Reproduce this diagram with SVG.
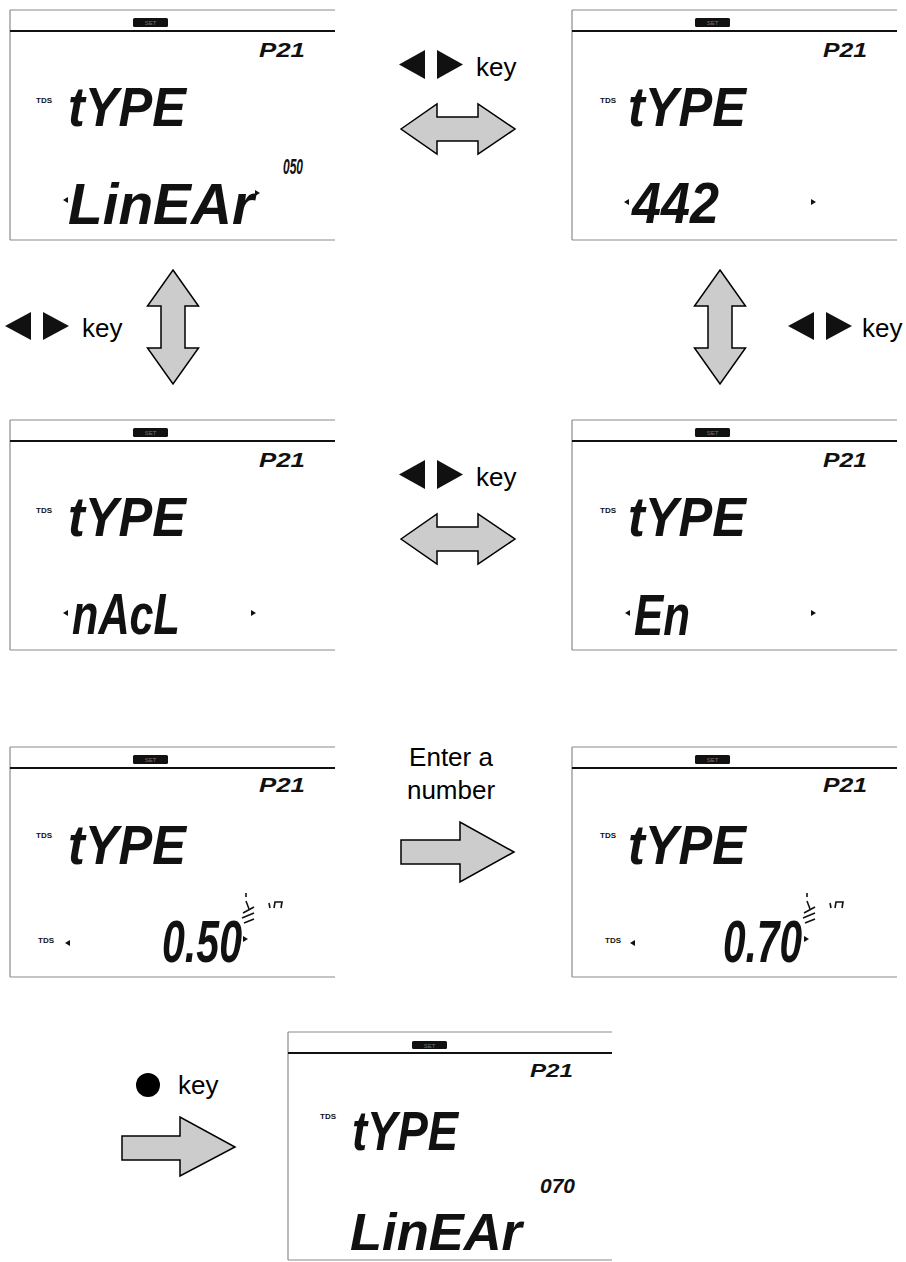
<svg xmlns="http://www.w3.org/2000/svg" width="906" height="1262" viewBox="0 0 906 1262">
<style>
.fr{stroke:#8a8a8a;stroke-width:1.2;fill:none}
.hd{stroke:#111;stroke-width:2.2}
.badge{fill:#111}
.bt{font-family:"Liberation Sans",Arial,sans-serif;font-size:6px;fill:#777;text-anchor:middle}
.seg{font-family:"Liberation Sans",Arial,sans-serif;font-weight:bold;font-style:italic;fill:#111}
.tds{font-family:"Liberation Sans",Arial,sans-serif;font-weight:bold;font-size:8px;fill:#111}
.tri{fill:#111}
.lbl{font-family:"Liberation Sans",Arial,sans-serif;font-size:26px;fill:#000}
.arw{fill:#cccccc;stroke:#000;stroke-width:1.5;stroke-linejoin:miter}
.ico{stroke:#111;stroke-width:1.6;fill:none}
</style>
<defs>
<g id="frame">
<line class="fr" x1="0" y1="0" x2="325" y2="0"/>
<line class="fr" x1="0" y1="0" x2="0" y2="230"/>
<line class="fr" x1="0" y1="230" x2="325" y2="230"/>
<line class="hd" x1="0" y1="21" x2="325" y2="21"/>
<rect class="badge" x="123" y="8" width="35" height="9" rx="1.5"/>
</g>
<polygon id="tl" class="tri" points="0,0 5,-3 5,3"/>
<polygon id="tr" class="tri" points="5,0 0,-3 0,3"/>
</defs>

<!-- Panel 1 -->
<g id="panel1" transform="translate(10,10)">
<use href="#frame"/>
<text class="bt" x="140.5" y="15">SET</text>
<text class="seg" x="249" y="47" font-size="20" textLength="46" lengthAdjust="spacingAndGlyphs">P21</text>
<text class="tds" x="26" y="93">TDS</text>
<text class="seg" x="58" y="116" font-size="56" textLength="118" lengthAdjust="spacingAndGlyphs">tYPE</text>
<text class="seg" x="273" y="164" font-size="22" textLength="20" lengthAdjust="spacingAndGlyphs">050</text>
<use href="#tl" x="53" y="190"/>
<text class="seg" x="58" y="214" font-size="57" textLength="186" lengthAdjust="spacingAndGlyphs">LinEAr</text>
<use href="#tr" x="245" y="183"/>
</g>

<!-- Panel 2 -->
<g id="panel2" transform="translate(572,10)">
<use href="#frame"/>
<text class="bt" x="140.5" y="15">SET</text>
<text class="seg" x="251" y="47" font-size="20" textLength="44" lengthAdjust="spacingAndGlyphs">P21</text>
<text class="tds" x="28" y="93">TDS</text>
<text class="seg" x="56" y="116" font-size="56" textLength="118" lengthAdjust="spacingAndGlyphs">tYPE</text>
<use href="#tl" x="52" y="192"/>
<text class="seg" x="60" y="213" font-size="57" textLength="87" lengthAdjust="spacingAndGlyphs">442</text>
<use href="#tr" x="239" y="192"/>
</g>

<!-- Panel 3 -->
<g id="panel3" transform="translate(10,420)">
<use href="#frame"/>
<text class="bt" x="140.5" y="15">SET</text>
<text class="seg" x="249" y="47" font-size="20" textLength="46" lengthAdjust="spacingAndGlyphs">P21</text>
<text class="tds" x="26" y="93">TDS</text>
<text class="seg" x="58" y="116" font-size="56" textLength="118" lengthAdjust="spacingAndGlyphs">tYPE</text>
<use href="#tl" x="53" y="193"/>
<text class="seg" x="62" y="214" font-size="57" textLength="108" lengthAdjust="spacingAndGlyphs">nAcL</text>
<use href="#tr" x="241" y="193"/>
</g>

<!-- Panel 4 -->
<g id="panel4" transform="translate(572,420)">
<use href="#frame"/>
<text class="bt" x="140.5" y="15">SET</text>
<text class="seg" x="251" y="47" font-size="20" textLength="44" lengthAdjust="spacingAndGlyphs">P21</text>
<text class="tds" x="28" y="93">TDS</text>
<text class="seg" x="56" y="116" font-size="56" textLength="118" lengthAdjust="spacingAndGlyphs">tYPE</text>
<use href="#tl" x="53" y="193"/>
<text class="seg" x="62" y="215" font-size="57" textLength="56" lengthAdjust="spacingAndGlyphs">En</text>
<use href="#tr" x="239" y="193"/>
</g>

<!-- Panel 5 -->
<g id="panel5" transform="translate(10,747)">
<use href="#frame"/>
<text class="bt" x="140.5" y="15">SET</text>
<text class="seg" x="249" y="45" font-size="20" textLength="46" lengthAdjust="spacingAndGlyphs">P21</text>
<text class="tds" x="26" y="91">TDS</text>
<text class="seg" x="58" y="117" font-size="56" textLength="118" lengthAdjust="spacingAndGlyphs">tYPE</text>
<text class="tds" x="28" y="196">TDS</text>
<use href="#tl" x="55" y="196"/>
<text class="seg" x="152" y="215" font-size="60" textLength="80" lengthAdjust="spacingAndGlyphs">0.50</text>
<g class="ico">
<line x1="236" y1="146" x2="236" y2="150"/>
<line x1="236" y1="154" x2="239" y2="162"/>
<line x1="233" y1="166" x2="244" y2="160"/>
<line x1="232" y1="171" x2="244" y2="166"/>
<line x1="234" y1="176" x2="244" y2="172"/>
<line x1="259" y1="156" x2="260" y2="161"/>
<path d="M264,161 L265,155 L272,155 L271,161"/>
</g>
<use href="#tr" x="233" y="192"/>
</g>

<!-- Panel 6 -->
<g id="panel6" transform="translate(572,747)">
<use href="#frame"/>
<text class="bt" x="140.5" y="15">SET</text>
<text class="seg" x="251" y="45" font-size="20" textLength="44" lengthAdjust="spacingAndGlyphs">P21</text>
<text class="tds" x="28" y="91">TDS</text>
<text class="seg" x="56" y="117" font-size="56" textLength="118" lengthAdjust="spacingAndGlyphs">tYPE</text>
<text class="tds" x="33" y="196">TDS</text>
<use href="#tl" x="58" y="196"/>
<text class="seg" x="151" y="215" font-size="60" textLength="79" lengthAdjust="spacingAndGlyphs">0.70</text>
<g class="ico">
<line x1="235" y1="146" x2="235" y2="150"/>
<line x1="235" y1="154" x2="238" y2="162"/>
<line x1="232" y1="166" x2="243" y2="160"/>
<line x1="231" y1="171" x2="243" y2="166"/>
<line x1="233" y1="176" x2="243" y2="172"/>
<line x1="258" y1="156" x2="259" y2="161"/>
<path d="M263,161 L264,155 L271,155 L270,161"/>
</g>
<use href="#tr" x="232" y="192"/>
</g>

<!-- Panel 7 -->
<g id="panel7" transform="translate(288,1032)">
<line class="fr" x1="0" y1="0" x2="324" y2="0"/>
<line class="fr" x1="0" y1="0" x2="0" y2="228"/>
<line class="fr" x1="0" y1="228" x2="324" y2="228"/>
<line class="hd" x1="0" y1="21" x2="324" y2="21"/>
<rect class="badge" x="124" y="9" width="35" height="8" rx="1.5"/>
<text class="bt" x="141.5" y="15.5">SET</text>
<text class="seg" x="242" y="45" font-size="18" textLength="43" lengthAdjust="spacingAndGlyphs">P21</text>
<text class="tds" x="32" y="87">TDS</text>
<text class="seg" x="64" y="118" font-size="55" textLength="106" lengthAdjust="spacingAndGlyphs">tYPE</text>
<text class="seg" x="252" y="161" font-size="20" textLength="35" lengthAdjust="spacingAndGlyphs">070</text>
<text class="seg" x="62" y="218" font-size="51" textLength="172" lengthAdjust="spacingAndGlyphs">LinEAr</text>
</g>

<!-- Connectors -->
<g id="connectors">
<polygon class="arw" points="401,129 437,104 437,117 478,117 478,104 515,129 478,154 478,141 437,141 437,154"/>
<polygon class="arw" points="401,539 437,514 437,527 478,527 478,514 515,539 478,564 478,551 437,551 437,564"/>
<polygon class="arw" points="173,270 198.5,306 185,306 185,348 198.5,348 173,384 147.5,348 161,348 161,306 147.5,306"/>
<polygon class="arw" points="720,270 745.5,306 732,306 732,348 745.5,348 720,384 694.5,348 708,348 708,306 694.5,306"/>
<polygon class="arw" points="401,840 460,840 460,822 514,852 460,882 460,864 401,864"/>
<polygon class="arw" points="122,1136 180,1136 180,1117 235,1147 180,1176 180,1160 122,1160"/>
</g>

<!-- Labels -->
<g id="label-top">
<polygon class="tri" points="399,64.5 425,50 425,79"/>
<polygon class="tri" points="437,50 463,64.5 437,79"/>
<text class="lbl" x="476" y="76">key</text>
</g>
<g id="label-mid">
<polygon class="tri" points="399,474.5 425,460 425,489"/>
<polygon class="tri" points="437,460 463,474.5 437,489"/>
<text class="lbl" x="476" y="486">key</text>
</g>
<g id="label-left">
<polygon class="tri" points="5,326 31,312 31,340"/>
<polygon class="tri" points="43,312 69,326 43,340"/>
<text class="lbl" x="82" y="337">key</text>
</g>
<g id="label-right">
<polygon class="tri" points="788,326 814,312 814,340"/>
<polygon class="tri" points="826,312 852,326 826,340"/>
<text class="lbl" x="862" y="337">key</text>
</g>
<g id="label-enter">
<text class="lbl" x="451" y="766" text-anchor="middle">Enter a</text>
<text class="lbl" x="451" y="799" text-anchor="middle">number</text>
</g>
<g id="label-ok">
<circle cx="148" cy="1085" r="12" fill="#000"/>
<text class="lbl" x="178" y="1094">key</text>
</g>
</svg>
